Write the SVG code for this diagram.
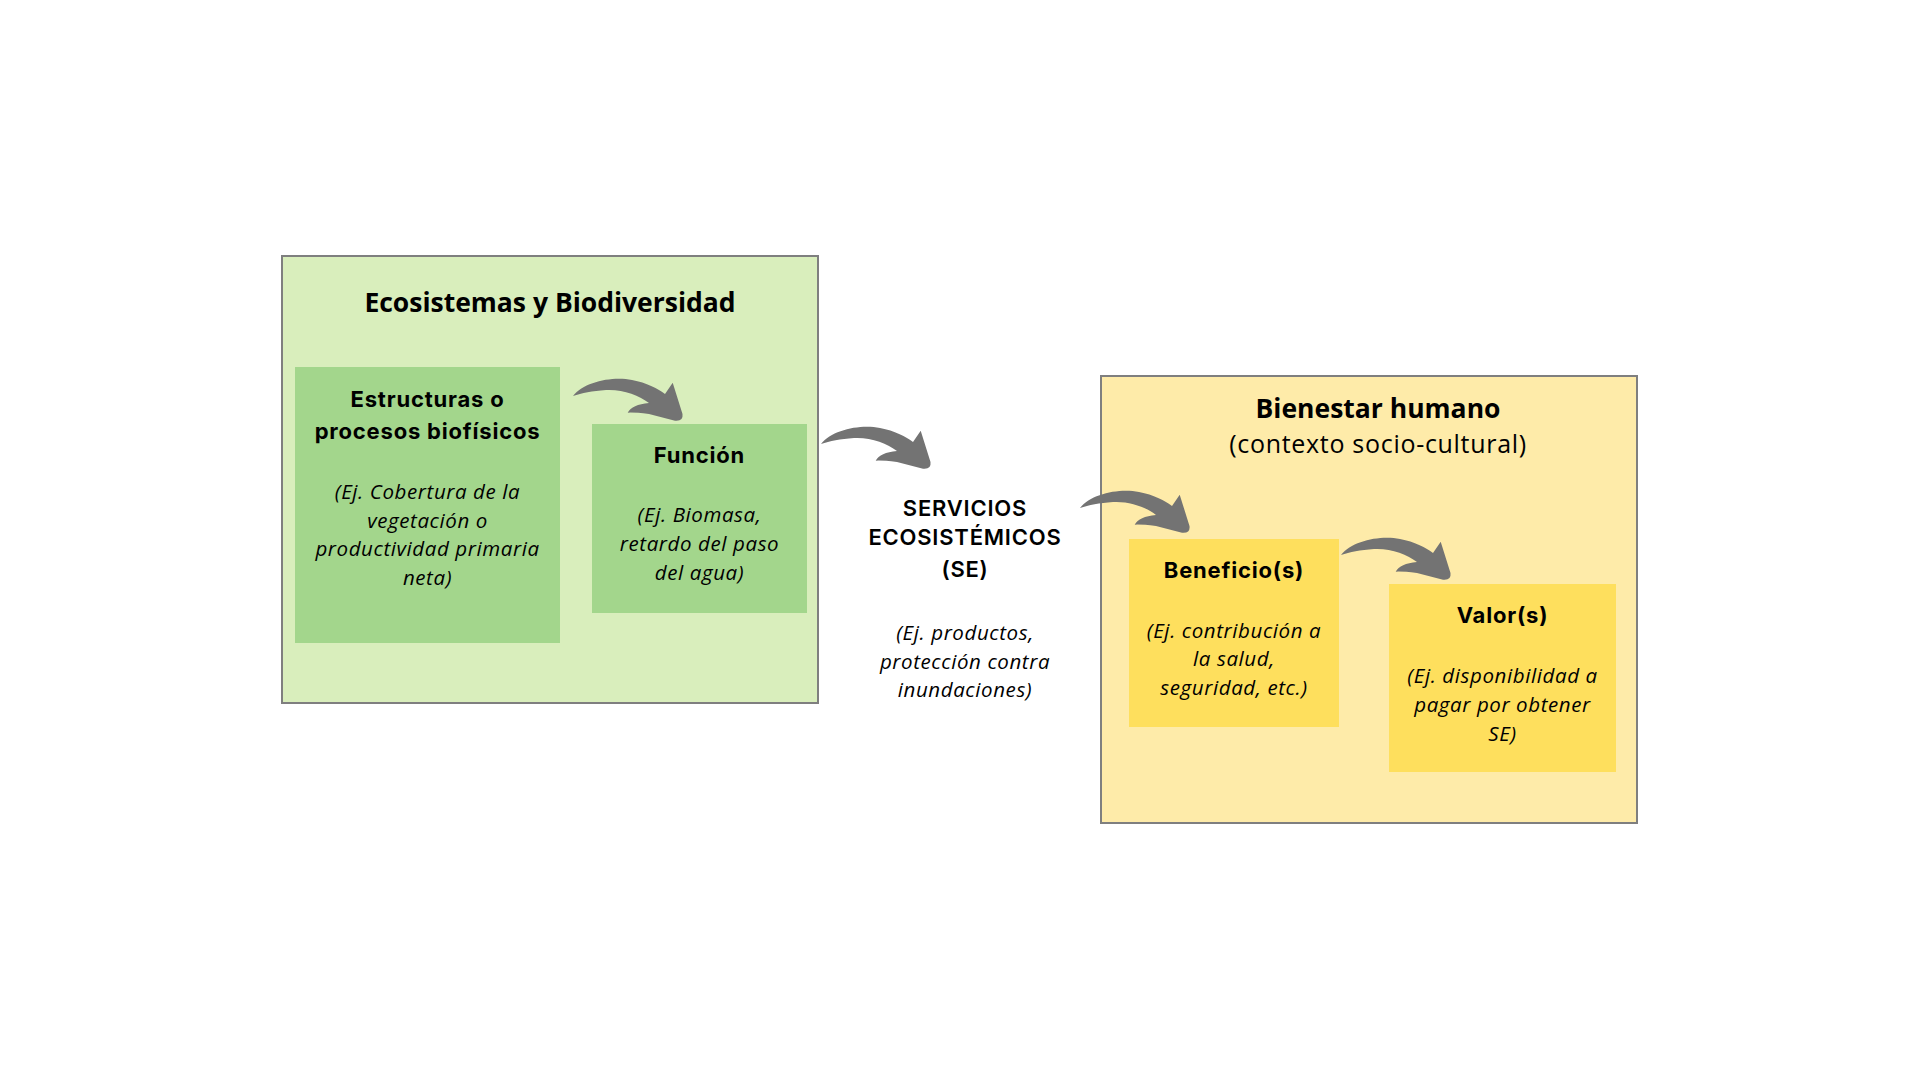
<svg xmlns="http://www.w3.org/2000/svg" xmlns:xlink="http://www.w3.org/1999/xlink" width="1920" height="1080" viewBox="0 0 1920 1080">
<style>
.outer{stroke:#7f7f7f;stroke-width:2}
.g-out{fill:#d9eebc}
.g-in{fill:#a3d68c}
.y-out{fill:#feeba9}
.y-in{fill:#fedf5d}
.hdr{font-family:"Open Sans",sans-serif;font-weight:700;font-size:26.5px;fill:#000;text-anchor:middle}
.sub{font-family:"Open Sans",sans-serif;font-weight:400;font-size:25px;letter-spacing:0.7px;fill:#000;text-anchor:middle}
.ttl{font-family:Inter,"Noto Sans",sans-serif;font-weight:700;font-size:22px;letter-spacing:0.8px;fill:#000;text-anchor:middle}
.se{font-weight:600}
.it{font-family:"Open Sans","Noto Sans",sans-serif;font-style:italic;font-size:20.5px;letter-spacing:0.6px;fill:#000;text-anchor:middle}
.arr{fill:#737373}
</style>
<defs>
<path id="arrow" d="M1,20 C12,6 40,0 60,4 C75,7 85,12 93,18 L100.7,6.7 L110.5,38 Q111.5,45.5 103,44.7 L77,38 Q62,36.3 55.7,36.7 Q60,28.5 77,27 C67,19 50,13 34,14 C20,15 10,17 1,20 Z"/>
</defs>
<rect width="1920" height="1080" fill="#fff"/>
<g id="ecosistemas">
<rect class="outer g-out" x="282" y="256" width="536" height="447"/>
<text class="hdr" x="550" y="312">Ecosistemas y Biodiversidad</text>
</g>
<g id="estructuras">
<rect class="g-in" x="295" y="367" width="265" height="276"/>
<text class="ttl" x="427.5" y="407">Estructuras o</text>
<text class="ttl" x="427.5" y="439">procesos biofísicos</text>
<text class="it" x="427.5" y="499">(Ej. Cobertura de la</text>
<text class="it" x="427.5" y="527.5">vegetación o</text>
<text class="it" x="427.5" y="556">productividad primaria</text>
<text class="it" x="427.5" y="584.5">neta)</text>
</g>
<g id="funcion">
<rect class="g-in" x="592" y="424" width="215" height="189"/>
<text class="ttl" x="699.5" y="463">Función</text>
<text class="it" x="699.5" y="522">(Ej. Biomasa,</text>
<text class="it" x="699.5" y="551">retardo del paso</text>
<text class="it" x="699.5" y="579.5">del agua)</text>
</g>
<g id="servicios">
<text class="ttl se" x="965" y="516">SERVICIOS</text>
<text class="ttl se" x="965" y="545">ECOSISTÉMICOS</text>
<text class="ttl se" x="965" y="577">(SE)</text>
<text class="it" x="965" y="640">(Ej. productos,</text>
<text class="it" x="965" y="668.5">protección contra</text>
<text class="it" x="965" y="697">inundaciones)</text>
</g>
<g id="bienestar">
<rect class="outer y-out" x="1101" y="376" width="536" height="447"/>
<text class="hdr" x="1378" y="418">Bienestar humano</text>
<text class="sub" x="1378" y="453">(contexto socio-cultural)</text>
</g>
<g id="beneficios">
<rect class="y-in" x="1129" y="539" width="210" height="188"/>
<text class="ttl" x="1234" y="578">Beneficio(s)</text>
<text class="it" x="1234" y="637.5">(Ej. contribución a</text>
<text class="it" x="1234" y="666">la salud,</text>
<text class="it" x="1234" y="695">seguridad, etc.)</text>
</g>
<g id="valores">
<rect class="y-in" x="1389" y="584" width="227" height="188"/>
<text class="ttl" x="1502.5" y="623">Valor(s)</text>
<text class="it" x="1502.5" y="682.5">(Ej. disponibilidad a</text>
<text class="it" x="1502.5" y="711.5">pagar por obtener</text>
<text class="it" x="1502.5" y="740.5">SE)</text>
</g>
<g id="connectors">
<use class="arr" xlink:href="#arrow" href="#arrow" transform="translate(572,376)"/>
<use class="arr" xlink:href="#arrow" href="#arrow" transform="translate(820,424)"/>
<use class="arr" xlink:href="#arrow" href="#arrow" transform="translate(1079,488)"/>
<use class="arr" xlink:href="#arrow" href="#arrow" transform="translate(1340,535)"/>
</g>
</svg>
